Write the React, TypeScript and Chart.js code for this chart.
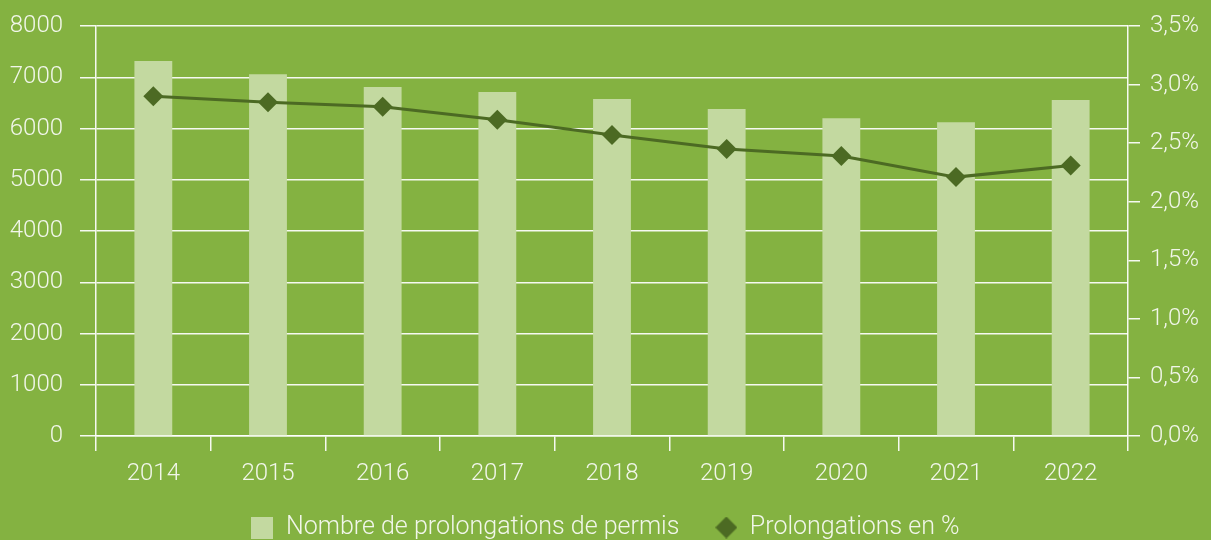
import React, { useEffect, useRef } from 'react';
import { Chart, registerables } from 'chart.js';

Chart.register(...registerables);

const years = ['2014', '2015', '2016', '2017', '2018', '2019', '2020', '2021', '2022'];
const permitExtensions = [7315, 7060, 6810, 6710, 6575, 6380, 6200, 6120, 6555];
const extensionPercent = [2.9, 2.85, 2.81, 2.7, 2.57, 2.45, 2.39, 2.21, 2.31];
const seriesNames = ['Nombre de prolongations de permis', 'Prolongations en %'];

const BG = '#84B241';
const BAR = '#C3D9A0';
const LINE = '#4C6A23';
const TEXT = '#F1F6EA';
const GRID = 'rgba(255,255,255,0.92)';
const FONT = { family: 'Roboto', size: 24, weight: '300' as any };
const LEGEND_FONT = { family: 'Roboto', size: 25, weight: '300' as any };

function makeIcon(kind: 'rect' | 'diamond', color: string) {
  const c = document.createElement('canvas');
  c.width = 22;
  c.height = 22;
  const ctx = c.getContext('2d')!;
  ctx.fillStyle = color;
  if (kind === 'rect') {
    ctx.fillRect(0, 0, 22, 22);
  } else {
    ctx.beginPath();
    ctx.moveTo(11, 0);
    ctx.lineTo(22, 11);
    ctx.lineTo(11, 22);
    ctx.lineTo(0, 11);
    ctx.closePath();
    ctx.fill();
  }
  return c;
}

// keeps x-axis labels from being clipped by the compact axis box
const labelRoom = {
  id: 'labelRoom',
  afterLayout(chart: any) {
    const x = chart.scales.x;
    if (x) x.bottom = x.top + 70;
  },
};

export default function App() {
  const ref = useRef<HTMLCanvasElement | null>(null);
  useEffect(() => {
    if (!ref.current) return;
    const icons = [makeIcon('rect', BAR), makeIcon('diamond', LINE)];
    const chart = new Chart(ref.current, {
      type: 'bar',
      data: {
        labels: years,
        datasets: [
          {
            type: 'bar',
            label: seriesNames[0],
            data: permitExtensions,
            backgroundColor: BAR,
            yAxisID: 'y',
            order: 2,
            categoryPercentage: 1,
            barPercentage: 0.33,
          },
          {
            type: 'line',
            label: seriesNames[1],
            data: extensionPercent,
            borderColor: LINE,
            backgroundColor: LINE,
            borderWidth: 3,
            pointStyle: 'rectRot',
            pointRadius: 10,
            pointHoverRadius: 10,
            pointBackgroundColor: LINE,
            pointBorderColor: LINE,
            pointBorderWidth: 0,
            yAxisID: 'y1',
            order: 1,
          } as any,
        ],
      },
      plugins: [labelRoom],
      options: {
        responsive: false,
        animation: false,
        color: TEXT,
        layout: { padding: { top: 26, left: 0, right: 0, bottom: -10 } },
        plugins: {
          tooltip: { enabled: false },
          legend: {
            position: 'bottom',
            labels: {
              color: TEXT,
              font: LEGEND_FONT,
              usePointStyle: true,
              boxWidth: 22,
              boxHeight: 22,
              padding: 36,
              sort: (a: any, b: any) => a.datasetIndex - b.datasetIndex,
              generateLabels: (ch: any) => {
                const items = Chart.defaults.plugins.legend.labels.generateLabels(ch);
                return items.map((it: any) => ({ ...it, pointStyle: icons[it.datasetIndex], fontColor: TEXT }));
              },
            },
          },
        },
        scales: {
          x: {
            offset: true,
            afterFit: (s: any) => { s.height = 43; s.paddingLeft = 0; s.paddingRight = 0; },
            grid: {
              display: true,
              offset: true,
              drawOnChartArea: false,
              drawTicks: true,
              tickLength: 15,
              color: GRID,
              lineWidth: 1.5,
            },
            border: { display: true, color: GRID, width: 1.5 },
            ticks: { color: TEXT, font: FONT, padding: 9, maxRotation: 0 },
          },
          y: {
            position: 'left',
            min: 0,
            max: 8000,
            afterFit: (s: any) => { s.width = 96; s.paddingTop = 0; s.paddingBottom = 0; },
            grid: { color: GRID, lineWidth: 1.5, tickLength: 16, drawTicks: true },
            border: { display: true, color: GRID, width: 1.5 },
            ticks: {
              stepSize: 1000,
              color: TEXT,
              font: FONT,
              padding: 17,
              callback: (v: any) => String(v),
            },
          },
          y1: {
            position: 'right',
            min: 0,
            max: 3.5,
            afterFit: (s: any) => { s.width = 83; s.paddingTop = 0; s.paddingBottom = 0; },
            grid: { drawOnChartArea: false, color: GRID, lineWidth: 1.5, tickLength: 12 },
            border: { display: true, color: GRID, width: 1.5 },
            ticks: {
              stepSize: 0.5,
              color: TEXT,
              font: FONT,
              padding: 10,
              callback: (v: any) => Number(v).toFixed(1).replace('.', ',') + '%',
            },
          },
        },
      },
    });
    return () => chart.destroy();
  }, []);
  return (
    <div style={{ position: 'fixed', left: 0, top: 0, width: 1211, height: 540, background: BG }}>
      <canvas ref={ref} width={1211} height={540} />
    </div>
  );
}
